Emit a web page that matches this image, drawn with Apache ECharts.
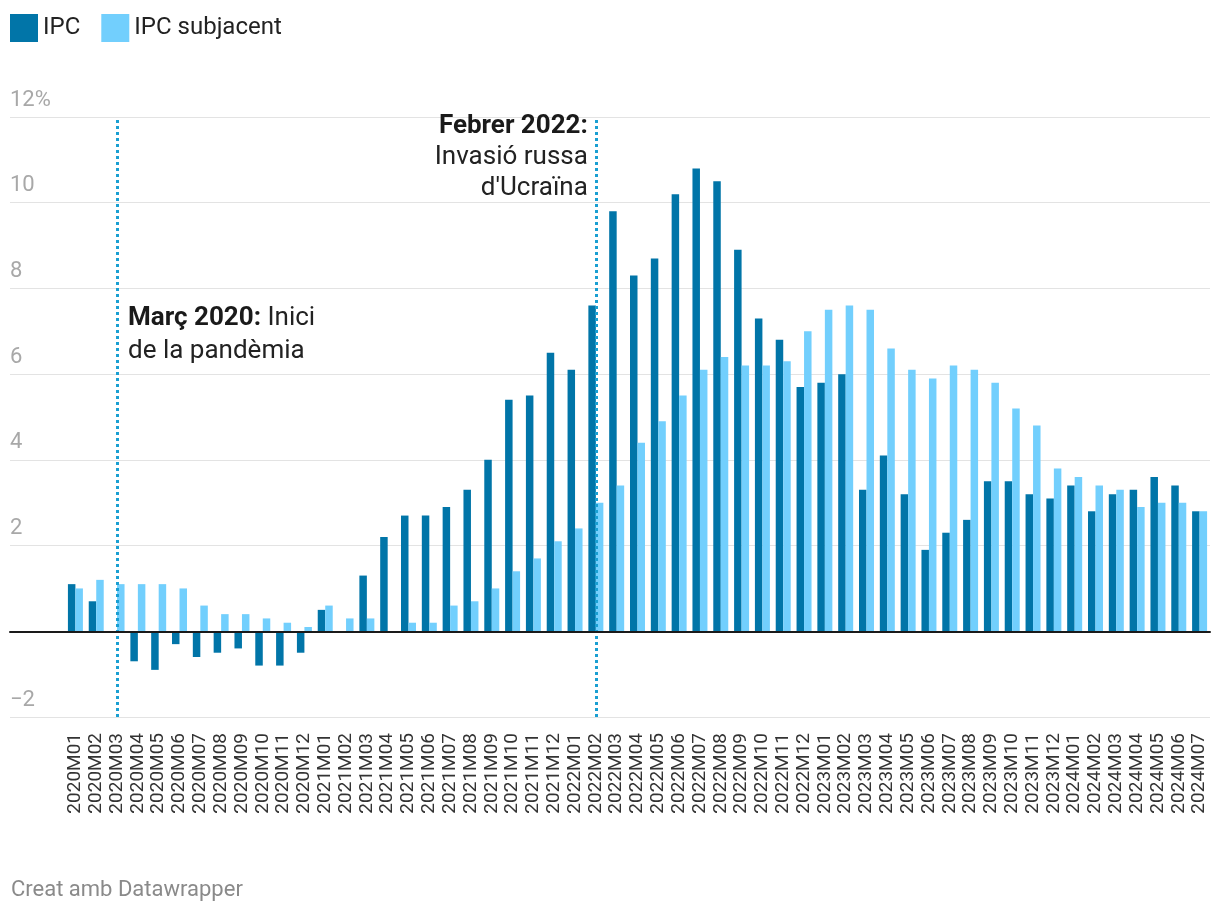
<!DOCTYPE html>
<html><head><meta charset="utf-8">
<script src="https://cdn.jsdelivr.net/npm/echarts@6/dist/echarts.min.js"></script>
<style>html,body{margin:0;padding:0;background:#fff}#c{width:1220px;height:916px}</style>
</head><body><div id="c"></div>
<script>
const categories = [
 '2020M01','2020M02','2020M03','2020M04','2020M05','2020M06','2020M07','2020M08','2020M09','2020M10','2020M11','2020M12',
 '2021M01','2021M02','2021M03','2021M04','2021M05','2021M06','2021M07','2021M08','2021M09','2021M10','2021M11','2021M12',
 '2022M01','2022M02','2022M03','2022M04','2022M05','2022M06','2022M07','2022M08','2022M09','2022M10','2022M11','2022M12',
 '2023M01','2023M02','2023M03','2023M04','2023M05','2023M06','2023M07','2023M08','2023M09','2023M10','2023M11','2023M12',
 '2024M01','2024M02','2024M03','2024M04','2024M05','2024M06','2024M07'];
const ipc = [
 1.1,0.7,0.0,-0.7,-0.9,-0.3,-0.6,-0.5,-0.4,-0.8,-0.8,-0.5,
 0.5,0.0,1.3,2.2,2.7,2.7,2.9,3.3,4.0,5.4,5.5,6.5,
 6.1,7.6,9.8,8.3,8.7,10.2,10.8,10.5,8.9,7.3,6.8,5.7,
 5.8,6.0,3.3,4.1,3.2,1.9,2.3,2.6,3.5,3.5,3.2,3.1,
 3.4,2.8,3.2,3.3,3.6,3.4,2.8];
const ipcSubjacent = [
 1.0,1.2,1.1,1.1,1.1,1.0,0.6,0.4,0.4,0.3,0.2,0.1,
 0.6,0.3,0.3,0.0,0.2,0.2,0.6,0.7,1.0,1.4,1.7,2.1,
 2.4,3.0,3.4,4.4,4.9,5.5,6.1,6.4,6.2,6.2,6.3,7.0,
 7.5,7.6,7.5,6.6,6.1,5.9,6.2,6.1,5.8,5.2,4.8,3.8,
 3.6,3.4,3.3,2.9,3.0,3.0,2.8];
const seriesNames = ['IPC','IPC subjacent'];
const yTickValues = [-2,0,2,4,6,8,10,12];
const yTickLabels = ['\u22122','','2','4','6','8','10','12%'];
const eventCategories = ['2020M03','2022M02'];
const eventTitles = ['Març 2020:','Febrer 2022:'];
const eventTexts = [' Inici\nde la pandèmia', '\nInvasió russa\nd\'Ucraïna'];
const footerText = 'Creat amb Datawrapper';

const FONT = 'Roboto, "Noto Sans", sans-serif';
const C_IPC = '#0175a8', C_SUB = '#72cffd', C_EVT = '#1a9fd2';

const chart = echarts.init(document.getElementById('c'), null, {renderer:'canvas'});
const footer = {type:'text',left:11,top:879,style:{text:footerText,fontSize:22,fill:'#8a8a8a',fontFamily:FONT}};
const option = {
  animation:false,
  backgroundColor:'#fff',
  textStyle:{fontFamily:FONT},
  legend:{left:10, top:14, padding:0, itemWidth:28, itemHeight:28, itemGap:21, icon:'rect',
    textStyle:{fontSize:24, color:'#222', fontFamily:FONT}, data:seriesNames},
  grid:[{left:10,right:10,top:117,bottom:199},{left:65,right:10,top:117,bottom:199}],
  xAxis:[
    {gridIndex:0,type:'value',min:0,max:1,z:10,
     axisLine:{show:true,onZero:true,lineStyle:{color:'#1a1a1a',width:2}},
     axisTick:{show:false},axisLabel:{show:false},splitLine:{show:false}},
    {gridIndex:1,type:'category',data:categories,
     axisLine:{show:false},axisTick:{show:false},
     axisLabel:{rotate:90,fontSize:19,color:'#333',margin:16,interval:0,fontFamily:FONT}}
  ],
  yAxis:[
    {gridIndex:0,type:'value',min:-2,max:12,interval:2,
     axisLine:{show:false},axisTick:{show:false},
     splitLine:{lineStyle:{color:'#e3e3e3',width:1}},
     axisLabel:{inside:true,margin:0,verticalAlign:'bottom',padding:[0,0,6,0],
       fontSize:22,color:'#a8a8a8',fontFamily:FONT,
       formatter:v=>{const i=yTickValues.indexOf(v);return i<0?'':yTickLabels[i];}}},
    {gridIndex:1,type:'value',min:-2,max:12,interval:2,show:false}
  ],
  series:[
    {name:seriesNames[0],type:'bar',xAxisIndex:1,yAxisIndex:1,data:ipc,
     barWidth:'36%',barGap:'0%',itemStyle:{color:C_IPC}},
    {name:seriesNames[1],type:'bar',xAxisIndex:1,yAxisIndex:1,data:ipcSubjacent,
     barWidth:'36%',barGap:'0%',itemStyle:{color:C_SUB}},
    {name:'events',type:'line',xAxisIndex:1,yAxisIndex:1,data:[],z:5,
     markLine:{silent:true,symbol:['none','none'],label:{show:false},
       lineStyle:{color:C_EVT,width:3,type:[3,3]},
       data:eventCategories.map(c=>({xAxis:c}))}}
  ],
  graphic:[footer]
};
chart.setOption(option);

const p0 = chart.convertToPixel({gridIndex:1}, [eventCategories[0], 7.68]);
const p1 = chart.convertToPixel({gridIndex:1}, [eventCategories[1], 12.13]);
const richA = {b:{fontWeight:'bold',fontSize:26,fill:'#1a1a1a',fontFamily:FONT,lineHeight:33}};
const richB = {b:{fontWeight:'bold',fontSize:26,fill:'#1a1a1a',fontFamily:FONT,lineHeight:31}};
chart.setOption({graphic:[
  footer,
  {type:'text',x:p0[0]+11,y:p0[1],style:{text:'{b|'+eventTitles[0]+'}'+eventTexts[0],rich:richA,
    fontSize:26,fill:'#222',fontFamily:FONT,lineHeight:33,align:'left',verticalAlign:'top'}},
  {type:'text',x:p1[0]-8,y:p1[1],style:{text:'{b|'+eventTitles[1]+'}'+eventTexts[1],rich:richB,
    fontSize:26,fill:'#222',fontFamily:FONT,lineHeight:31,align:'right',verticalAlign:'top'}}
]}, {replaceMerge:['graphic']});
</script></body></html>
